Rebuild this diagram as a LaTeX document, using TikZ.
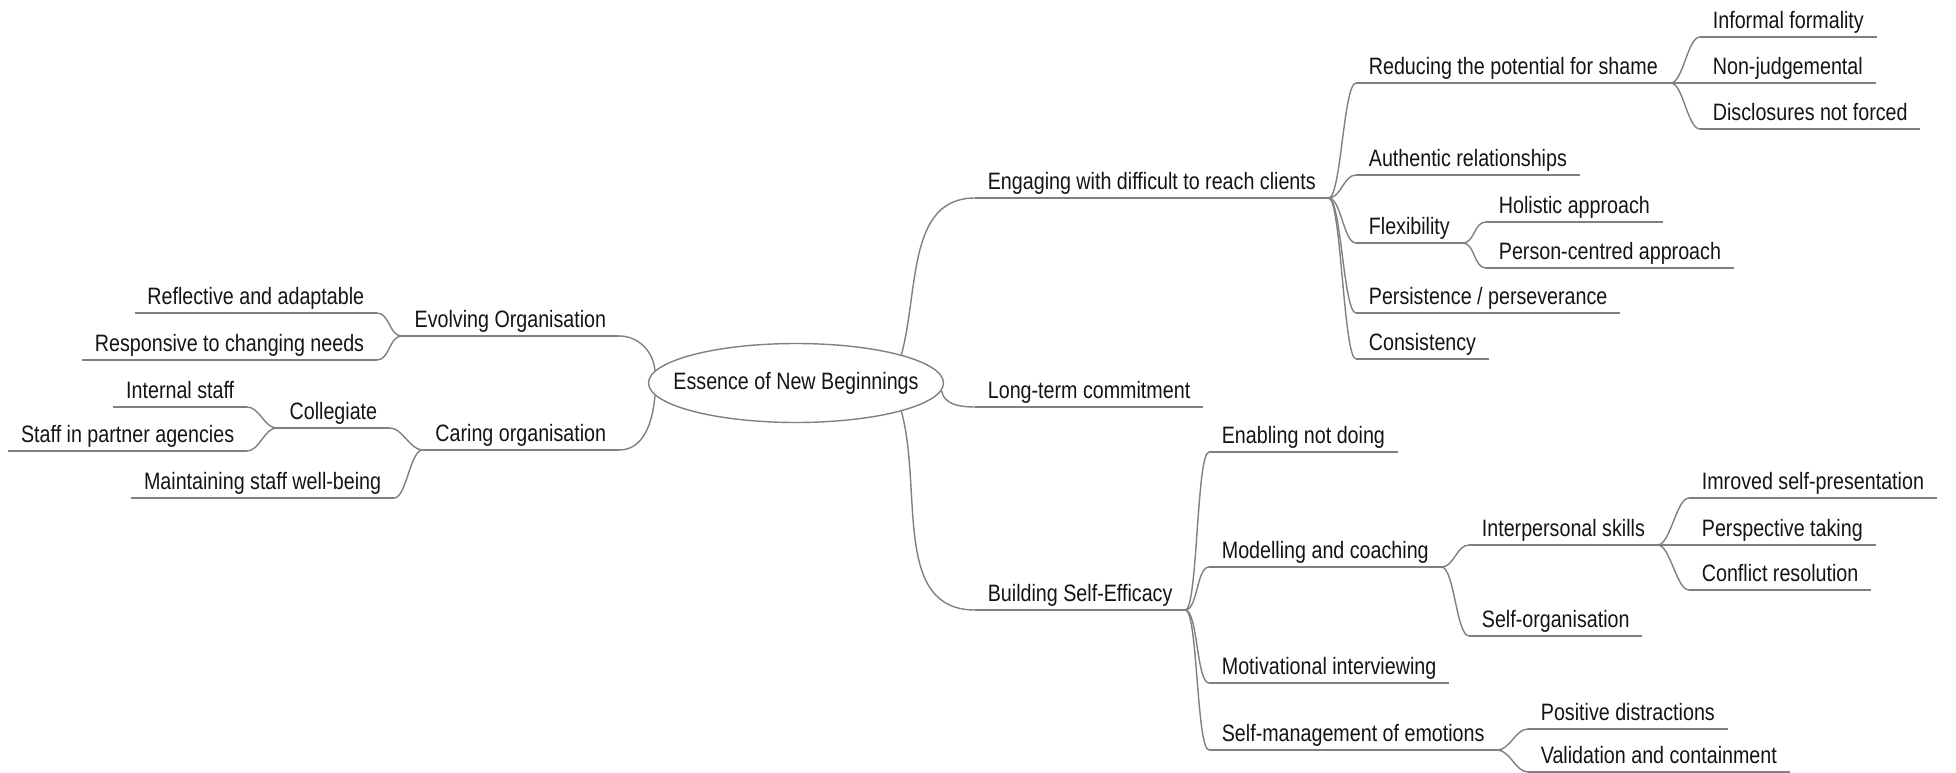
\documentclass[tikz,border=0pt]{standalone}
\usepackage{fontspec}
\setmainfont{Liberation Sans}[FakeStretch=0.83]
\usetikzlibrary{shapes.geometric}
\definecolor{linegray}{RGB}{128,128,128}
\definecolor{inkgray}{RGB}{20,20,20}

\begin{document}
\begin{tikzpicture}[x={(0.02cm,0cm)}, y={(0cm,-0.02cm)},
    font=\fontsize{13.5}{15}\selectfont, text=inkgray,
    root/.style={ellipse, draw=linegray, line width=0.8pt, minimum width=5.9cm, minimum height=1.58cm, inner sep=0pt},
    topic/.style={anchor=south west, inner xsep=0.25cm, inner ysep=0.1cm, text height=0.75em, text depth=0.2em},
    ltopic/.style={topic, anchor=south east},
    branch/.style={draw=linegray, line width=0.8pt},
    twig/.style={branch, out=0, in=180, max distance=0.25cm},
    ltwig/.style={branch, out=180, in=0, max distance=0.25cm}]
    % pixel grid of the original: x to the right, y downwards
    \useasboundingbox (0,0) rectangle (1956,773);

    % Centre
    \node[root, label={center:Essence of New Beginnings}] (essence) at (796,383) {};

    % Left half
    \node[ltopic] (evolve) at (619,336) {Evolving Organisation};
    \node[ltopic] (reflect) at (377,313) {Reflective and adaptable};
    \node[ltopic] (respond) at (377,360) {Responsive to changing needs};
    \node[ltopic] (caring) at (619,450) {Caring organisation};
    \node[ltopic] (collegiate) at (390,428) {Collegiate};
    \node[ltopic] (internal) at (247,407) {Internal staff};
    \node[ltopic] (partner) at (247,451) {Staff in partner agencies};
    \node[ltopic] (wellbeing) at (394,498) {Maintaining staff well-being};

    % Right half
    \node[topic] (engage) at (975,198) {Engaging with difficult to reach clients};
    \node[topic] (longterm) at (975,407) {Long-term commitment};
    \node[topic] (building) at (975,610) {Building Self-Efficacy};
    \node[topic] (shame) at (1356,83) {Reducing the potential for shame};
    \node[topic] (authentic) at (1356,175) {Authentic relationships};
    \node[topic] (flexible) at (1356,243) {Flexibility};
    \node[topic] (persist) at (1356,313) {Persistence / perseverance};
    \node[topic] (consist) at (1356,359) {Consistency};
    \node[topic] (informal) at (1700,37) {Informal formality};
    \node[topic] (nonjudge) at (1700,83) {Non-judgemental};
    \node[topic] (disclose) at (1700,129) {Disclosures not forced};
    \node[topic] (holistic) at (1486,222) {Holistic approach};
    \node[topic] (personal) at (1486,268) {Person-centred approach};
    \node[topic] (enabling) at (1209,452) {Enabling not doing};
    \node[topic] (modelling) at (1209,567) {Modelling and coaching};
    \node[topic] (motivate) at (1209,683) {Motivational interviewing};
    \node[topic] (emotions) at (1209,750) {Self-management of emotions};
    \node[topic] (interpers) at (1469,545) {Interpersonal skills};
    \node[topic] (selforg) at (1469,636) {Self-organisation};
    \node[topic] (present) at (1689,498) {Imroved self-presentation};
    \node[topic] (perspect) at (1689,545) {Perspective taking};
    \node[topic] (conflict) at (1689,590) {Conflict resolution};
    \node[topic] (distract) at (1528,729) {Positive distractions};
    \node[topic] (contain) at (1528,772) {Validation and containment};

    % Underlines
    \foreach \n in {evolve, reflect, respond, caring, collegiate, internal, partner, wellbeing,
        engage, longterm, building, shame, authentic, flexible, persist, consist,
        informal, nonjudge, disclose, holistic, personal, enabling, modelling, motivate,
        emotions, interpers, selforg, present, perspect, conflict, distract, contain}
        \draw[branch] (\n.south west) -- (\n.south east);

    % Main branches out of the ellipse
    \draw[branch] (essence.15) to[out=75, in=180] (engage.south west);
    \draw[branch] (essence.-3) to[out=-80, in=180] (longterm.south west);
    \draw[branch] (essence.-15) to[out=-75, in=180] (building.south west);
    \draw[branch] (essence.175) to[out=95, in=0] (evolve.south east);
    \draw[branch] (essence.185) to[out=-95, in=0] (caring.south east);

    % Sub-branches
    \foreach \a/\b in {engage/shame, engage/authentic, engage/flexible, engage/persist, engage/consist,
        shame/informal, shame/nonjudge, shame/disclose, flexible/holistic, flexible/personal,
        building/enabling, building/modelling, building/motivate, building/emotions,
        modelling/interpers, modelling/selforg, interpers/present, interpers/perspect,
        interpers/conflict, emotions/distract, emotions/contain}
        \draw[twig] (\a.south east) to (\b.south west);
    \foreach \a/\b in {evolve/reflect, evolve/respond, caring/collegiate, caring/wellbeing,
        collegiate/internal, collegiate/partner}
        \draw[ltwig] (\a.south west) to (\b.south east);
\end{tikzpicture}
\end{document}
